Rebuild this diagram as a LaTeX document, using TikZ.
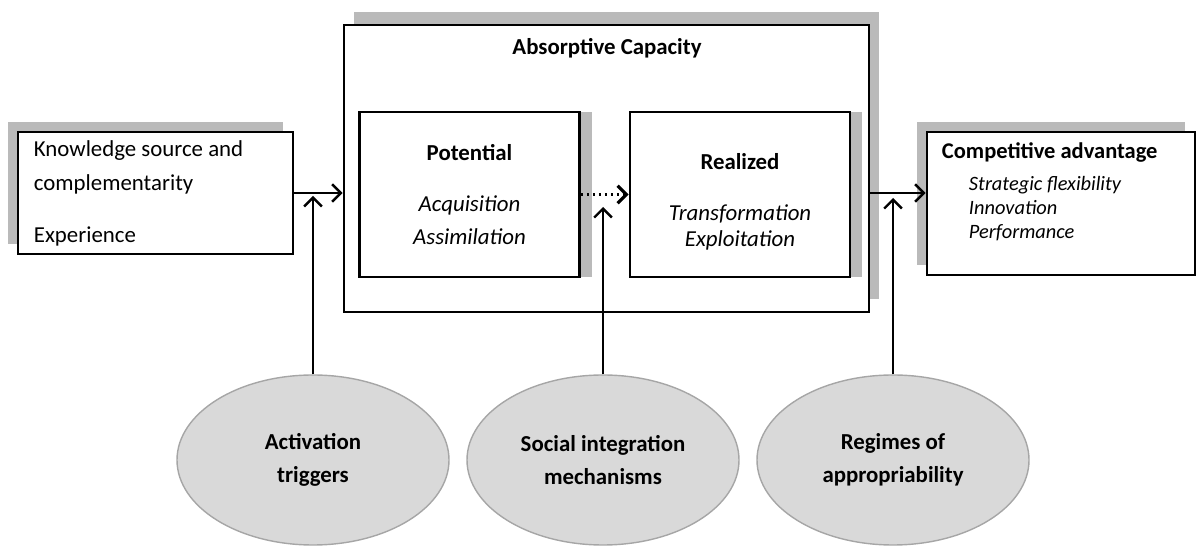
\documentclass[tikz,border=0pt]{standalone}
\usepackage{fontspec}
\setmainfont{Carlito}
\usetikzlibrary{positioning, shapes.geometric, shadows, arrows.meta}

\begin{document}
\begin{tikzpicture}[
    box/.style={draw, line width=1.6pt, fill=white, inner sep=0pt},
    phase/.style={box, minimum width=4.4cm, minimum height=3.3cm, align=center,
        drop shadow={shadow xshift=0.24cm, shadow yshift=0cm, fill=black!27, opacity=1}},
    factor/.style={ellipse, draw=black!35, line width=0.8pt, fill=black!15,
        minimum width=5.44cm, minimum height=3.4cm, align=center,
        font=\bfseries\fontsize{13}{19}\selectfont},
    arr/.style={-{Straight Barb[length=5pt,width=10pt]}, line width=1.4pt},
    txt/.style={font=\fontsize{13}{18.7}\selectfont}
]
    \useasboundingbox (0,0) rectangle (23.94,10.92);

    % absorptive capacity with its two phases
    \node[box, minimum width=10.5cm, minimum height=5.74cm,
        drop shadow={shadow xshift=0.2cm, shadow yshift=0.26cm, fill=black!27, opacity=1}] (absorb) at (12.13,7.55) {};
    \node[txt, font=\bfseries\fontsize{13}{16}\selectfont] (abstitle) at (12.14,9.96) {Absorptive Capacity};
    \node[phase, txt] (pot) at (9.39,7.03) {\textbf{Potential}\\[0.36cm]\textit{Acquisition}\\\textit{Assimilation}};
    \node[phase, txt] (real) at (14.80,7.03) {\rule{0pt}{0.62cm}\textbf{Realized}\\[0.36cm]\textit{Transformation}\\[-4pt]\textit{Exploitation}};

    % input and outcome
    \node[box, minimum width=5.5cm, minimum height=2.44cm,
        drop shadow={shadow xshift=-0.2cm, shadow yshift=0.2cm, fill=black!27, opacity=1}] (know) at (3.11,7.06) {};
    \node[txt, right=0.34cm of know.west, inner sep=0pt, align=left, font=\fontsize{13}{19.6}\selectfont] (knowtext)
        {Knowledge source and\\complementarity\\[0.34cm]Experience};
    \node[box, minimum width=5.36cm, minimum height=2.86cm,
        drop shadow={shadow xshift=-0.2cm, shadow yshift=0.2cm, fill=black!27, opacity=1}] (comp) at (21.22,6.85) {};
    \node[below right=0.24cm and 0.32cm of comp.north west, inner sep=0pt, align=left,
        font=\fontsize{11.6}{13.8}\selectfont] (comptext)
        {{\bfseries\fontsize{12.8}{16}\selectfont Competitive advantage}\\[4pt]
         \hspace*{0.54cm}\textit{Strategic flexibility}\\
         \hspace*{0.54cm}\textit{Innovation}\\
         \hspace*{0.54cm}\textit{Performance}};

    % moderators
    \node[factor] (trig) at (6.26,1.72) {Activation\\triggers};
    \node[factor] (social) at (12.06,1.72) {Social integration\\mechanisms};
    \node[factor] (regime) at (17.86,1.72) {Regimes of\\appropriability};

    \coordinate (tipA) at (6.26,7.0);
    \coordinate (tipB) at (12.06,6.78);
    \coordinate (tipC) at (17.86,6.96);

    \draw[arr] (know.east) -- (know.east -| absorb.west);
    \draw[arr, dotted, line width=1.8pt] (pot.east) -- (real.west);
    \draw[arr] (absorb.east |- know.east) -- (comp.west |- know.east);

    \draw[arr] (trig.north) -- (trig.north |- tipA);
    \draw[arr] (social.north) -- (social.north |- tipB);
    \draw[arr] (regime.north) -- (regime.north |- tipC);
\end{tikzpicture}
\end{document}
